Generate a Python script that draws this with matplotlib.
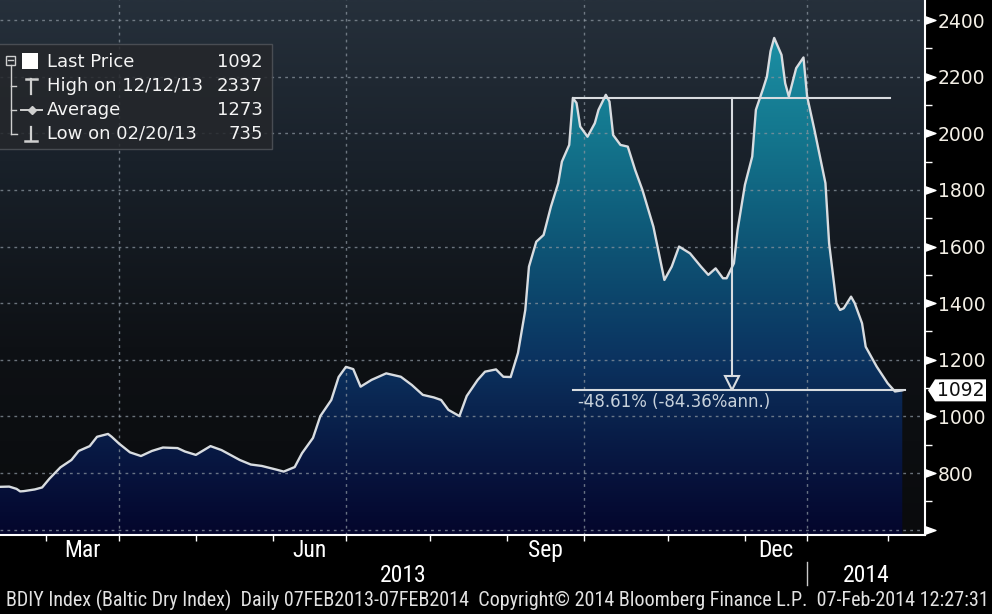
import numpy as np
import matplotlib
matplotlib.use("Agg")
import matplotlib.pyplot as plt
import matplotlib.transforms as mtransforms
from matplotlib import font_manager as fm
from matplotlib.colors import LinearSegmentedColormap
from matplotlib.patches import Rectangle, Polygon
from matplotlib.lines import Line2D
from matplotlib.path import Path

# ---------------- data ----------------
start_date = "2013-02-07"
holidays = ["2013-03-29", "2013-04-01", "2013-05-06", "2013-05-27", "2013-08-26",
            "2013-12-25", "2013-12-26", "2013-12-27", "2013-12-30", "2013-12-31",
            "2014-01-01"]
# trading session number since 07-Feb-2013 (Baltic Exchange trading days)
session = [0, 3, 6, 8, 9, 10, 13, 15, 17, 20, 23, 25, 28, 30, 33, 34, 36, 39, 42, 45,
           48, 52, 54, 57, 61, 64, 69, 72, 75, 79, 81, 84, 86, 89, 91, 94, 96, 98, 100,
           102, 105, 109, 113, 116, 119, 122, 124, 126, 129, 131, 134, 136, 139, 141,
           143, 145, 147, 148, 150, 152, 154, 156, 157, 159, 160, 161, 162, 164, 166,
           167, 169, 170, 171, 173, 175, 177, 179, 182, 185, 187, 189, 192, 195, 197,
           199, 201, 202, 204, 205, 207, 209, 210, 212, 213, 214, 215, 217, 218, 219,
           221, 223, 224, 226, 229, 230, 232, 233, 234, 236, 237, 239, 240, 243, 246,
           248, 250]
bdi = [752, 751, 752, 744, 735, 736, 742, 749, 780, 820, 846, 878, 895, 928, 938, 928,
       904, 873, 860, 878, 890, 888, 876, 864, 895, 881, 846, 830, 825, 812, 805, 821,
       870, 924, 1001, 1058, 1139, 1175, 1167, 1105, 1129, 1152, 1140, 1111, 1076, 1067,
       1058, 1023, 1001, 1072, 1129, 1158, 1166, 1140, 1139, 1224, 1376, 1529, 1617,
       1641, 1741, 1824, 1900, 1959, 2125, 2107, 2024, 1988, 2036, 2083, 2136, 2112,
       1994, 1959, 1953, 1871, 1800, 1670, 1482, 1529, 1600, 1576, 1529, 1500, 1523,
       1488, 1488, 1541, 1659, 1818, 1918, 2083, 2159, 2200, 2290, 2337, 2277, 2177,
       2130, 2230, 2268, 2130, 2012, 1824, 1612, 1400, 1376, 1382, 1423, 1400, 1329,
       1246, 1176, 1117, 1088, 1092]

month_label_text = ["Mar", "Jun", "Sep", "Dec"]
month_label_month = ["2013-03", "2013-06", "2013-09", "2013-12"]
year_labels = ["2013", "2014"]
y_ticks = [600, 800, 1000, 1200, 1400, 1600, 1800, 2000, 2200, 2400]
y_tick_labels = ["", "800", "1000", "1200", "1400", "1600", "1800", "2000", "2200", "2400"]

legend_names = ["Last Price", "High on 12/12/13", "Average", "Low on 02/20/13"]
legend_values = ["1092", "2337", "1273", "735"]
last_price = 1092
move_start_session = 160
move_text = "-48.61% (-84.36%ann.)"
footer = ("BDIY Index (Baltic Dry Index)  Daily 07FEB2013-07FEB2014  "
          "Copyright\u00a9 2014 Bloomberg Finance L.P.  07-Feb-2014 12:27:31")


# ---------------- narrow font choice ----------------
def narrow_font():
    fonts = fm.fontManager.ttflist
    names = {f.name for f in fonts}
    for nm in ("Liberation Sans Narrow", "Roboto Condensed", "DejaVu Sans Condensed",
               "Open Sans Condensed"):
        if nm in names:
            return dict(family=nm)
    for f in fonts:
        if f.name == "DejaVu Sans" and str(f.stretch) in ("condensed", "semi-condensed"):
            return dict(family="DejaVu Sans", stretch="condensed")
    for f in fonts:
        if f.name == "Roboto" and str(f.stretch) in ("condensed", "semi-condensed"):
            return dict(family="Roboto", stretch="condensed")
    return dict(family="DejaVu Sans")


NF = narrow_font()

# ---------------- figure ----------------
W, H = 992, 614
fig = plt.figure(figsize=(W / 100, H / 100), dpi=100, facecolor="black")
ax = fig.add_axes([0, 1 - 535 / H, 925 / W, 535 / H])
ax.set_facecolor("black")

x = np.array(session, float)
y = np.array(bdi, float)
x_lo, x_hi = 3.49, 256.2
y_lo, y_hi = 581, 2471

# background gradient
bg_cmap = LinearSegmentedColormap.from_list(
    "bg", [(0, "#0a0b0d"), (0.35, "#0e1115"), (0.7, "#19212a"), (1, "#26303b")])
grad = np.linspace(0, 1, 512).reshape(-1, 1)
ax.imshow(grad, extent=[x_lo, x_hi, y_lo, y_hi], origin="lower", aspect="auto",
          cmap=bg_cmap, zorder=0, interpolation="bilinear")

# gradient area fill
fill_cmap = LinearSegmentedColormap.from_list(
    "fill", [(0, "#04062c"), (0.12, "#07143e"), (0.24, "#0a2550"), (0.33, "#0b3360"),
             (0.55, "#0e5676"), (0.76, "#14788f"), (1, "#1f98ac")])
poly = ax.fill_between(x, y, y_lo, facecolor="none", edgecolor="none")
im = ax.imshow(grad, extent=[x_lo, x_hi, y_lo, y_hi], origin="lower", aspect="auto",
               cmap=fill_cmap, zorder=1, interpolation="bilinear")
im.set_clip_path(poly.get_paths()[0], transform=ax.transData)

ax.plot(x, y, color="#d8dce0", lw=1.7, zorder=4, solid_joinstyle="round")

# month boundaries in trading-session units
months = np.arange("2013-03", "2014-03", dtype="datetime64[M]")
month_dates = months.astype("datetime64[D]")
month_pos = np.busday_count(start_date, month_dates, holidays=holidays)

# grid
grid_kw = dict(color="#8a949e", lw=1, ls=(0, (2, 3)), alpha=0.75, zorder=2)
for v in y_ticks:
    ax.axhline(v, **grid_kw)
for d, p in zip(month_dates, month_pos):
    if str(d)[5:7] in ("01", "04", "07", "10"):
        ax.axvline(p, **grid_kw)

ax.set_xlim(x_lo, x_hi)
ax.set_ylim(y_lo, y_hi)

# spines
for s in ("top", "left"):
    ax.spines[s].set_visible(False)
for s in ("right", "bottom"):
    ax.spines[s].set_color("white")
    ax.spines[s].set_linewidth(1.5)

# y axis
ax.yaxis.tick_right()
ax.set_yticks(y_ticks)
ax.set_yticklabels(y_tick_labels)
ax.set_yticks([v + 100 for v in y_ticks[:-1]], minor=True)
ax.tick_params(axis="y", which="major", length=0, pad=9, labelsize=13.5,
               labelcolor="#f3efe6", left=False, right=True)
ax.tick_params(axis="y", which="minor", length=5, width=1, color="white",
               left=False, right=True)
tri = Path([(0, -0.36), (1, 0), (0, 0.36), (0, -0.36)],
           [Path.MOVETO, Path.LINETO, Path.LINETO, Path.CLOSEPOLY])
ax.plot(np.ones(len(y_ticks)), y_ticks, ls="none", marker=tri, ms=15, color="white",
        mec="white", transform=ax.get_yaxis_transform(), clip_on=False, zorder=6)

# x axis
label_pos = []
for m in month_label_month:
    m0 = np.datetime64(m, "M")
    a = np.busday_count(start_date, m0.astype("datetime64[D]"), holidays=holidays)
    b = np.busday_count(start_date, (m0 + 1).astype("datetime64[D]"), holidays=holidays)
    label_pos.append((a + b) / 2)
ax.set_xticks(label_pos)
ax.set_xticklabels(month_label_text)
ax.set_xticks(month_pos, minor=True)
ax.tick_params(axis="x", which="major", length=0, pad=3, labelsize=17,
               labelcolor="white")
ax.tick_params(axis="x", which="minor", length=4, width=1, color="white")
for lab in ax.get_xticklabels():
    lab.set_fontproperties(fm.FontProperties(size=17, **NF))

jan_pos = month_pos[list(str(d)[5:7] for d in month_dates).index("01")]
xt = ax.get_xaxis_transform()
ax.text((x_lo + jan_pos) / 2, -40 / 535, year_labels[0], transform=xt, ha="center",
        va="center", color="white", fontsize=17, **NF)
ax.text((jan_pos + x_hi) / 2, -40 / 535, year_labels[1], transform=xt, ha="center",
        va="center", color="white", fontsize=17, **NF)
ax.plot([jan_pos, jan_pos], [-27 / 535, -50 / 535], transform=xt, clip_on=False,
        color="#c8c8c8", lw=1)

# move annotation
ann_kw = dict(color="#d8dce0", lw=1.5, zorder=5)
move_start_val = bdi[session.index(move_start_session)]
top_end = session[-1] - 3.3
mid = (move_start_session + top_end) / 2
ax.plot([move_start_session, top_end], [move_start_val, move_start_val], **ann_kw)
ax.plot([move_start_session, session[-1] + 0.8], [last_price, last_price], **ann_kw)
arrow_h = 14 / 0.283  # triangle height in value units
ax.plot([mid, mid], [move_start_val, last_price + arrow_h], **ann_kw)
ax.plot([mid], [last_price + arrow_h / 2], marker="v", ms=10, mfc="none",
        mec="#d8dce0", mew=1.5, zorder=5)
ax.annotate(move_text, xy=(move_start_session, last_price), xytext=(4, -8.5),
            textcoords="offset points", ha="left", va="center", fontsize=12,
            color="#c8d2dc", zorder=6)

# last-price tag
trans_tag = fig.dpi_scale_trans + mtransforms.ScaledTranslation(
    1, last_price, ax.get_yaxis_transform())
tag = Polygon([(0.03, 0), (0.10, 0.11), (0.61, 0.11), (0.61, -0.11), (0.10, -0.11)],
              closed=True, transform=trans_tag, fc="white", ec="none", clip_on=False,
              zorder=7)
ax.add_artist(tag)
ax.annotate(str(last_price), xy=(1, last_price), xycoords=ax.get_yaxis_transform(),
            xytext=(25.5, 0), textcoords="offset points", ha="center", va="center",
            fontsize=13.5, color="#111111", zorder=8, annotation_clip=False)

# legend (pixel coordinates, origin top-left)
T = mtransforms.Affine2D().scale(1 / W, -1 / H).translate(0, 1) + fig.transFigure
fig.add_artist(Rectangle((-4, 44), 276, 105, transform=T, fc="#25272b", ec="#50545a",
                         lw=1, alpha=0.85))
lc = "#cfcfcf"


def seg(x0, y0, x1, y1, lw=1.2, c=lc):
    fig.add_artist(Line2D([x0, x1], [y0, y1], transform=T, color=c, lw=lw))


fig.add_artist(Rectangle((6, 55.5), 9, 9, transform=T, fc="none", ec=lc, lw=1))
seg(8, 60, 13, 60, lw=1)
seg(10.5, 64.5, 10.5, 134, lw=1)
seg(10.5, 86, 16, 86, lw=1)
seg(10.5, 110, 16, 110, lw=1)
seg(10.5, 134, 17, 134, lw=1)
fig.add_artist(Rectangle((22, 53), 16, 16, transform=T, fc="white", ec="none"))
seg(31, 79, 31, 94, lw=1.6)
seg(25.5, 79, 36.5, 79, lw=1.8)
seg(21, 110, 42, 110, lw=1.4)
fig.add_artist(Line2D([31.5], [110], transform=T, marker="D", ms=4.5, color=lc))
seg(31, 127, 31, 141, lw=1.6)
seg(25, 141, 37, 141, lw=1.8)
rows = [62, 86, 110, 134]
for yy, name, val in zip(rows, legend_names, legend_values):
    fig.text(47 / W, 1 - yy / H, name, ha="left", va="center", fontsize=13,
             color="#f4f4f4")
    fig.text(263 / W, 1 - yy / H, val, ha="right", va="center", fontsize=13,
             color="#f4f4f4")

# footer, sized so that it spans the full width as in the reference
ft = fig.text(989 / W, 1 - 600 / H, footer, ha="right", va="center", fontsize=13,
              color="#e2e2e2", **NF)
fig.canvas.draw()
w = ft.get_window_extent().width
ft.set_fontsize(13 * 984 / w)

fig.savefig("out.png", dpi=100, facecolor="black")
